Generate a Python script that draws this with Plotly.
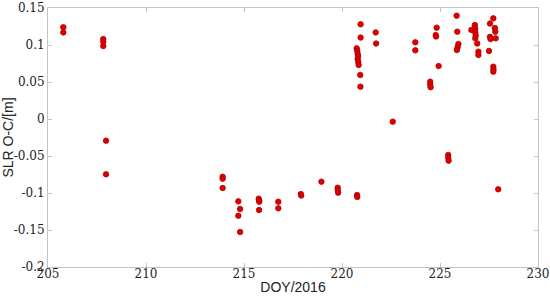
import plotly.graph_objects as go

# day of year (2016) and SLR O-C residual in metres
doy = [205.78, 205.78,
       207.82, 207.82, 207.82, 207.96, 207.96,
       213.91, 213.91, 213.91,
       214.71, 214.80, 214.71, 214.80,
       215.75, 215.77, 215.78, 215.77,
       216.75, 216.75,
       217.90, 217.92,
       218.95,
       219.78, 219.78, 219.80,
       220.77, 220.78,
       220.95, 220.95, 220.75, 220.78, 220.80, 220.82, 220.80, 220.83, 220.85, 220.93, 220.94,
       221.72, 221.74,
       222.59,
       223.74, 223.74,
       224.50, 224.50, 224.52,
       224.83, 224.78, 224.80, 224.93,
       225.42, 225.42, 225.44,
       225.85, 225.88, 225.94, 225.90, 225.86,
       226.60, 226.78, 226.80, 226.80, 226.82, 226.80, 226.90, 226.96, 226.96,
       227.55, 227.72, 227.55, 227.58, 227.80, 227.82, 227.84, 227.50, 227.72, 227.73, 227.72,
       227.97]
oc = [0.124, 0.117,
      0.108, 0.1045, 0.0986, -0.0293, -0.0748,
      -0.078, -0.0807, -0.0932,
      -0.1113, -0.1216, -0.1307, -0.1527,
      -0.1077, -0.1100, -0.1118, -0.123,
      -0.1118, -0.1207,
      -0.1015, -0.1035,
      -0.0847,
      -0.0928, -0.0960, -0.0996,
      -0.1027, -0.1054,
      0.128, 0.110, 0.0955, 0.092, 0.088, 0.085, 0.081, 0.077, 0.073, 0.0595, 0.0437,
      0.117, 0.102,
      -0.0036,
      0.1036, 0.0928,
      0.0505, 0.0465, 0.043,
      0.1234, 0.1135, 0.1115, 0.0716,
      -0.0486, -0.0525, -0.0563,
      0.1396, 0.118, 0.1014, 0.097, 0.0932,
      0.1203, 0.127, 0.122, 0.117, 0.113, 0.109, 0.102, 0.091, 0.0865,
      0.129, 0.136, 0.111, 0.108, 0.123, 0.118, 0.109, 0.092, 0.0707, 0.067, 0.064,
      -0.095]

x_ticks = [205, 210, 215, 220, 225, 230]
y_ticks = [-0.2, -0.15, -0.1, -0.05, 0, 0.05, 0.1, 0.15]
y_tick_text = ['-0.2', '-0.15', '-0.1', '-0.05', '0', '0.05', '0.1', '0.15']

serif = 'DejaVu Serif'
sans = 'Liberation Sans'

fig = go.Figure()
fig.add_trace(go.Scatter(x=doy, y=oc, mode='markers', hoverinfo='skip',
                         marker=dict(size=5.5, color='#dd0000', line=dict(color='#b30000', width=0.8))))

axis_style = dict(showline=True, mirror='ticks', linecolor='#c4c4c4', linewidth=1,
                  ticks='inside', ticklen=4, tickcolor='#c4c4c4', showgrid=False, zeroline=False,
                  automargin=False, ticklabeloverflow='allow',
                  tickfont=dict(family=serif, size=12, color='#222222'))

fig.update_xaxes(range=[205, 230], tickvals=x_ticks, ticklabelstandoff=-4,
                 title=dict(text='DOY/2016', standoff=1,
                            font=dict(family=sans, size=14, color='#222222')),
                 **axis_style)
fig.update_yaxes(range=[-0.2, 0.15], tickvals=y_ticks, ticktext=y_tick_text,
                 title=dict(text='SLR O-C/[m]', standoff=6,
                            font=dict(family=sans, size=14, color='#222222')),
                 **axis_style)

fig.update_layout(width=550, height=297, margin=dict(l=48, r=12, t=8, b=30),
                  paper_bgcolor='white', plot_bgcolor='white', showlegend=False, hovermode=False)

fig.write_html("out.html", config={'displayModeBar': False},
               post_script="document.body.style.margin = '0';")
